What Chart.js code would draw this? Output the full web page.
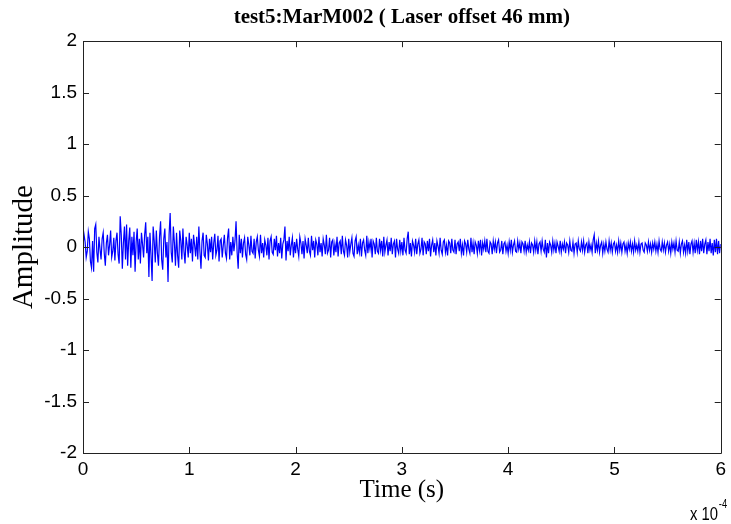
<!doctype html>
<head>
<style>
* {
    box-sizing: border-box;
    margin: 0;
    padding: 0;
}
body {
    background: #fff;
}
canvas {
    display: block;
}
</style>
</head>
<canvas id="chart" width="731" height="524"></canvas>
<script src="https://cdn.jsdelivr.net/npm/chart.js"></script>
<script>

// time axis is in units of 1e-4 s, one sample every 0.01 (1 us)
let sample_step = 0.01
let x_ticks = [0, 1, 2, 3, 4, 5, 6]
let y_ticks = [-2, -1.5, -1, -0.5, 0, 0.5, 1, 1.5, 2]

// amplitude, 601 samples from 0 to 6e-4 s
let amplitude = [
    0.02, 0.12, 0.05, -0.10, -0.04, 0.15, 0.08, -0.14, -0.20, 0.06, -0.24, 0.18, 0.22, -0.05, -0.15, 0.10, -0.02, -0.12, 0.08, 0.14,
    -0.06, -0.18, 0.04, 0.12, -0.08, 0.02, 0.16, -0.10, -0.04, 0.09, -0.13, 0.06, 0.14, -0.07, -0.16, 0.30, 0.12, -0.21, 0.04, 0.20,
    -0.12, 0.22, -0.18, 0.06, 0.19, -0.20, 0.10, -0.08, 0.15, -0.24, 0.05, 0.18, -0.12, 0.08, -0.16, 0.14, 0.03, -0.10, 0.12, 0.24,
    -0.06, 0.10, -0.29, 0.14, -0.08, -0.33, 0.20, 0.06, -0.15, 0.16, -0.06, -0.18, 0.10, 0.25, -0.12, -0.22, 0.08, 0.18, -0.10, 0.05,
    -0.34, 0.12, 0.33, -0.05, -0.15, 0.20, 0.04, -0.18, 0.14, -0.08, -0.20, 0.16, 0.06, -0.12, 0.18, -0.04, -0.16, 0.10, 0.02, -0.10,
    0.14, -0.06, 0.08, -0.14, 0.12, 0.02, -0.09, 0.10, -0.12, 0.20, -0.04, -0.21, 0.06, 0.14, -0.08, -0.10, 0.12, 0.03, -0.13, 0.08,
    -0.05, 0.10, -0.12, 0.04, 0.13, -0.08, -0.03, 0.11, -0.14, 0.06, 0.08, -0.10, 0.02, 0.12, -0.06, -0.11, 0.09, 0.18, -0.12, 0.05,
    -0.08, 0.10, -0.04, 0.06, 0.25, -0.05, -0.21, 0.12, -0.06, 0.08, -0.10, 0.04, 0.09, -0.07, -0.12, 0.10, 0.02, -0.08, 0.11, -0.04,
    -0.06, 0.08, -0.11, 0.05, 0.10, -0.03, -0.09, 0.12, -0.06, 0.04, -0.10, 0.07, 0.02, -0.08, 0.09, -0.12, 0.06, 0.10, -0.05, -0.07,
    0.08, -0.03, 0.11, -0.09, 0.04, -0.06, 0.09, -0.11, 0.03, 0.07, 0.20, -0.13, 0.06, -0.04, 0.10, -0.08, 0.02, 0.09, -0.10, 0.05,
    -0.06, 0.08, -0.02, -0.09, 0.10, 0.04, -0.07, 0.06, -0.11, 0.08, 0.02, -0.06, 0.09, -0.04, -0.08, 0.11, -0.03, 0.06, -0.10, 0.07,
    0.03, -0.08, 0.10, -0.05, 0.04, -0.09, 0.08, 0.02, -0.07, 0.12, -0.06, -0.03, 0.09, -0.10, 0.05, 0.07, -0.08, 0.03, -0.05, 0.10,
    -0.09, 0.04, 0.06, -0.07, 0.11, -0.04, -0.08, 0.07, 0.02, -0.10, 0.08, -0.05, 0.03, 0.09, -0.06, -0.09, 0.06, 0.10, -0.07, 0.02,
    -0.05, 0.08, -0.09, 0.04, 0.07, -0.03, -0.08, 0.11, -0.06, 0.05, -0.02, 0.08, -0.10, 0.06, 0.03, -0.07, 0.09, -0.04, -0.06, 0.08,
    -0.03, 0.06, -0.09, 0.10, -0.05, 0.02, 0.07, -0.08, 0.05, -0.04, 0.09, -0.07, 0.03, 0.06, -0.10, 0.08, -0.02, -0.06, 0.07, -0.04,
    0.05, -0.08, 0.09, -0.03, -0.06, 0.08, 0.15, -0.07, 0.04, -0.09, 0.06, 0.02, -0.05, 0.08, -0.07, 0.03, 0.07, -0.06, -0.02, 0.09,
    -0.08, 0.05, 0.03, -0.07, 0.06, -0.04, 0.08, -0.09, 0.02, 0.07, -0.05, 0.04, -0.08, 0.06, 0.01, -0.06, 0.09, -0.03, -0.07, 0.05,
    0.07, -0.05, 0.02, -0.08, 0.06, 0.04, -0.06, 0.08, -0.03, -0.05, 0.07, -0.07, 0.03, 0.05, -0.04, 0.08, -0.06, 0.02, -0.08, 0.06,
    0.03, -0.05, 0.07, -0.02, -0.06, 0.09, -0.05, 0.04, -0.07, 0.05, 0.02, -0.06, 0.06, -0.03, 0.07, -0.08, 0.04, -0.02, 0.06, -0.05,
    0.08, -0.04, -0.06, 0.05, 0.03, -0.07, 0.06, -0.02, 0.05, -0.06, 0.04, 0.07, -0.05, -0.03, 0.06, -0.07, 0.03, 0.05, -0.04, 0.02,
    -0.06, 0.05, -0.03, 0.07, -0.05, 0.02, 0.06, -0.04, -0.05, 0.06, -0.02, 0.04, -0.06, 0.05, 0.03, -0.04, 0.06, -0.05, 0.02, -0.03,
    0.05, -0.06, 0.04, 0.02, -0.05, 0.06, -0.03, 0.05, -0.07, 0.03, 0.05, -0.04, 0.06, -0.02, -0.05, 0.07, -0.10, 0.04, -0.06, 0.05,
    0.02, -0.05, 0.06, -0.03, 0.04, -0.06, 0.05, 0.01, -0.04, 0.06, -0.05, 0.03, -0.02, 0.05, -0.06, 0.04, 0.02, -0.05, 0.06, -0.03,
    -0.04, 0.05, -0.06, 0.03, 0.04, -0.05, 0.06, -0.02, -0.04, 0.05, -0.03, 0.06, -0.05, 0.02, 0.04, -0.06, 0.05, -0.03, 0.02, -0.05,
    0.07, 0.12, -0.06, 0.04, -0.03, 0.06, -0.05, 0.02, 0.05, -0.06, 0.03, -0.04, 0.05, -0.02, -0.05, 0.06, -0.03, 0.04, -0.05, 0.03,
    0.05, -0.04, 0.02, -0.05, 0.06, -0.03, 0.04, -0.05, 0.03, 0.05, -0.04, 0.02, -0.06, 0.04, -0.02, 0.05, -0.04, 0.03, -0.05, 0.06,
    -0.03, 0.02, -0.04, 0.05, -0.05, 0.03, 0.04, -0.03, -0.05, 0.04, 0.02, -0.04, 0.05, -0.03, 0.03, -0.05, 0.04, -0.02, 0.05, -0.04,
    0.03, -0.05, 0.06, -0.02, -0.04, 0.05, -0.03, 0.04, -0.05, 0.02, 0.05, -0.04, 0.03, -0.06, 0.05, -0.02, 0.04, -0.05, 0.06, -0.03,
    -0.04, 0.05, -0.06, 0.03, 0.06, -0.05, 0.02, -0.06, 0.07, -0.04, 0.05, -0.07, 0.03, 0.06, -0.05, 0.04, -0.06, 0.07, -0.03, 0.05,
    -0.07, 0.06, -0.04, 0.08, -0.06, 0.03, 0.07, -0.07, 0.05, -0.04, 0.08, -0.06, 0.04, -0.08, 0.07, -0.05, 0.08, -0.07, 0.06, -0.06,
    0.03,
]

let points = amplitude.map((y, i) => ({ x: i * sample_step, y }))

let sans = "'Liberation Sans Narrow', 'Liberation Sans', Arial, sans-serif"
let serif = "'Liberation Serif', 'Times New Roman', serif"

// matlab style box with inward ticks, plus the x 10^-4 exponent
let matlab_frame = {
    id: 'matlab_frame',
    afterDraw(chart) {
        let ctx = chart.ctx
        let { left, right, top, bottom } = chart.chartArea
        let sx = chart.scales.x
        let sy = chart.scales.y
        let tick = 6
        ctx.save()
        ctx.strokeStyle = '#222'
        ctx.lineWidth = 1
        ctx.beginPath()
        ctx.rect(Math.round(left) + 0.5, Math.round(top) + 0.5, Math.round(right - left), Math.round(bottom - top))
        for (let v of x_ticks) {
            let px = Math.round(sx.getPixelForValue(v)) + 0.5
            ctx.moveTo(px, bottom)
            ctx.lineTo(px, bottom - tick)
            ctx.moveTo(px, top)
            ctx.lineTo(px, top + tick)
        }
        for (let v of y_ticks) {
            let py = Math.round(sy.getPixelForValue(v)) + 0.5
            ctx.moveTo(left, py)
            ctx.lineTo(left + tick, py)
            ctx.moveTo(right, py)
            ctx.lineTo(right - tick, py)
        }
        ctx.stroke()

        // exponent label, squeezed a little like the original
        ctx.fillStyle = '#000'
        ctx.textBaseline = 'alphabetic'
        ctx.textAlign = 'left'
        ctx.translate(690, 520)
        ctx.scale(0.78, 1)
        ctx.font = '19px ' + sans
        let base = 'x 10'
        ctx.fillText(base, 0, 0)
        let w = ctx.measureText(base).width
        ctx.font = '12px ' + sans
        ctx.fillText('-4', w + 1, -12)
        ctx.restore()
    },
}

let chart = new Chart(document.getElementById('chart'), {
    type: 'line',
    data: {
        datasets: [
            {
                data: points,
                borderColor: '#0000ff',
                borderWidth: 1.2,
                pointRadius: 0,
                pointHitRadius: 0,
                tension: 0,
            },
        ],
    },
    options: {
        responsive: false,
        animation: false,
        layout: {
            padding: { left: 0, right: 7, top: 0, bottom: 0 },
        },
        scales: {
            x: {
                type: 'linear',
                min: 0,
                max: 6,
                afterFit(scale) {
                    scale.height = 71
                },
                afterBuildTicks(scale) {
                    scale.ticks = x_ticks.map(v => ({ value: v }))
                },
                grid: { display: false, drawTicks: false },
                border: { display: false },
                ticks: {
                    padding: 5,
                    color: '#000',
                    font: { family: sans, size: 19 },
                    maxRotation: 0,
                    callback: v => String(v),
                },
                title: {
                    display: true,
                    text: 'Time (s)',
                    color: '#000',
                    font: { family: serif, size: 25 },
                    padding: { top: 0, bottom: 19 },
                },
            },
            y: {
                min: -2,
                max: 2,
                afterFit(scale) {
                    scale.width = 83
                },
                afterBuildTicks(scale) {
                    scale.ticks = y_ticks.map(v => ({ value: v }))
                },
                grid: { display: false, drawTicks: false },
                border: { display: false },
                ticks: {
                    padding: 6,
                    color: '#000',
                    font: { family: sans, size: 19 },
                    callback: v => String(Number(v.toFixed(1))),
                },
                title: {
                    display: true,
                    text: 'Amplitude',
                    color: '#000',
                    font: { family: serif, size: 29 },
                    padding: { top: 7, bottom: 0 },
                },
            },
        },
        plugins: {
            legend: { display: false },
            tooltip: { enabled: false },
            title: {
                display: true,
                fullSize: false,
                text: 'test5:MarM002 ( Laser offset 46 mm)',
                color: '#000',
                font: { family: serif, size: 21, weight: 'bold' },
                padding: { top: 5, bottom: 11 },
            },
        },
    },
    plugins: [matlab_frame],
})

</script>
